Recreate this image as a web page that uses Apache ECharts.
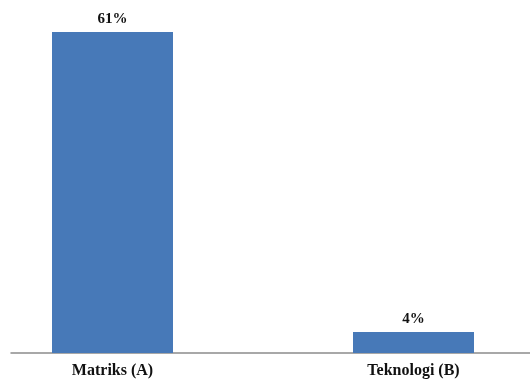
<!DOCTYPE html>
<html>
<head>
<meta charset="utf-8">
<script src="https://cdn.jsdelivr.net/npm/echarts@6/dist/echarts.min.js"></script>
<style>html,body{margin:0;padding:0;background:#fff;}#c{width:530px;height:379px;}</style>
</head>
<body>
<div id="c"></div>
<script>
var categories = ['Matriks (A)', 'Teknologi (B)'];
var values = [61, 4];
var labels = ['61%', '4%'];

var chart = echarts.init(document.getElementById('c'));
var font = '"Liberation Serif", "Times New Roman", serif';
// axis spans x=11..530; category centres sit at 112.5 and 413.5 (301 px apart)
var xMin = -101.5 / 301;
var xMax = xMin + 519 / 301;
chart.setOption({
  animation: false,
  backgroundColor: '#ffffff',
  grid: { left: 11, right: 0, top: 32, bottom: 26 },
  xAxis: {
    type: 'value', min: xMin, max: xMax,
    axisLine: { show: true, onZero: false, lineStyle: { color: '#8c8c8c', width: 1.5 } },
    axisTick: { show: false },
    splitLine: { show: false },
    axisLabel: {
      customValues: categories.map(function (c, i) { return i; }),
      formatter: function (v) { return categories[Math.round(v)] || ''; },
      fontFamily: font, fontWeight: 'bold', fontSize: 16, color: '#111', margin: 10
    }
  },
  yAxis: { type: 'value', min: 0, max: 61, show: false, splitLine: { show: false } },
  series: [{
    type: 'bar',
    data: values.map(function (v, i) { return [i, v]; }),
    barWidth: 121,
    itemStyle: { color: '#4779B8' },
    label: {
      show: true, position: 'top', distance: 5,
      fontFamily: font, fontWeight: 'bold', fontSize: 15, color: '#111',
      formatter: function (p) { return labels[p.dataIndex]; }
    }
  }]
});
</script>
</body>
</html>
